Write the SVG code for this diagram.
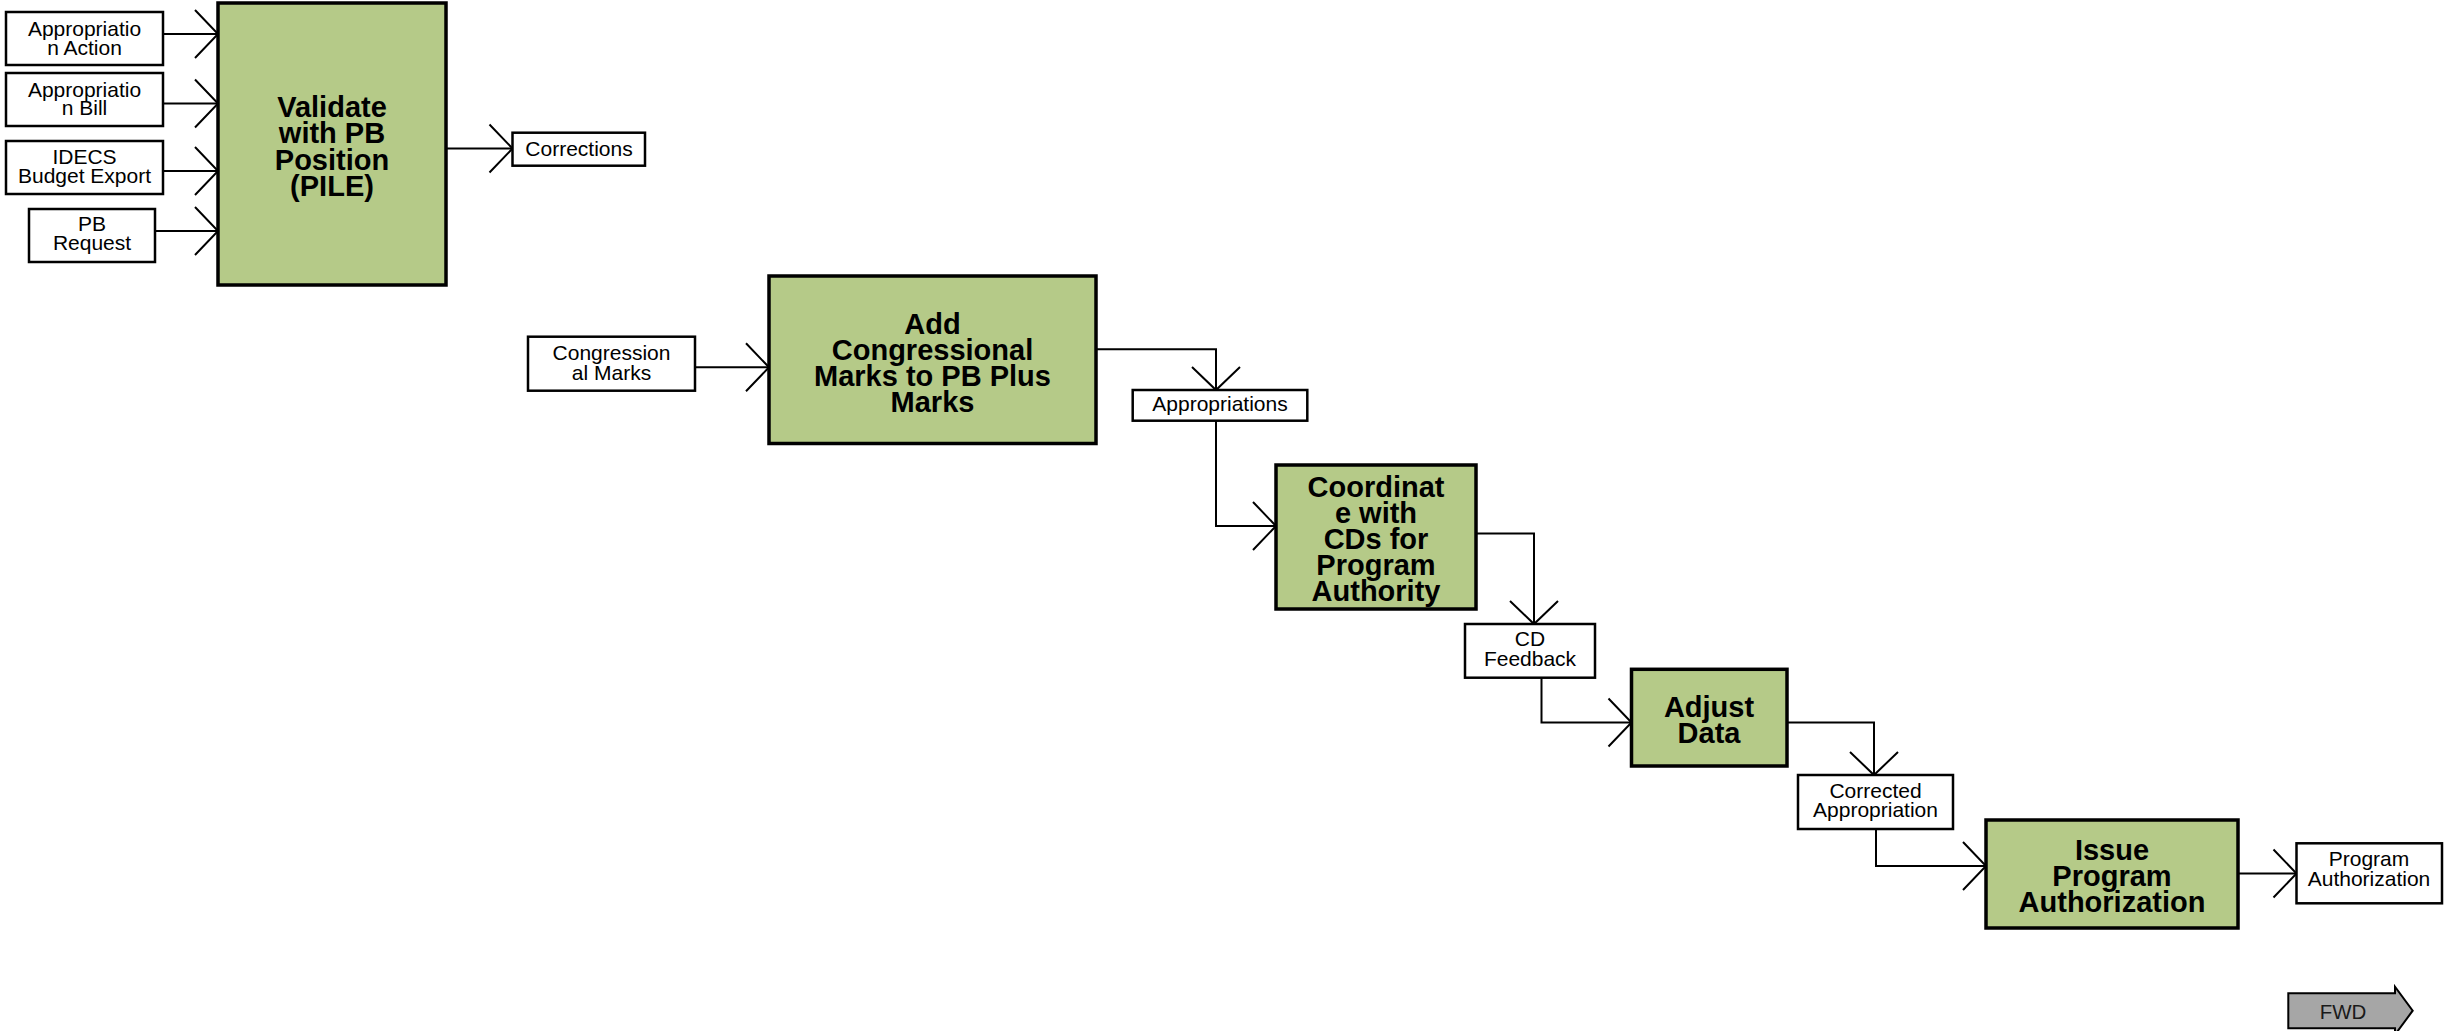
<svg xmlns="http://www.w3.org/2000/svg" width="2452" height="1031" viewBox="0 0 2452 1031">
<style>
.bg{fill:#ffffff}
.proc{fill:#b5ca88;stroke:#000;stroke-width:3.5}
.data{fill:#ffffff;stroke:#000;stroke-width:2.5}
.t{font-family:"Liberation Sans",Arial,sans-serif;font-size:21px;fill:#000;text-anchor:middle}
.b{font-family:"Liberation Sans",Arial,sans-serif;font-size:29px;font-weight:bold;fill:#000;text-anchor:middle}
.c{fill:none;stroke:#000;stroke-width:2}
.fwd{fill:#a6a6a6;stroke:#000;stroke-width:2}
</style>
<defs>
<marker id="chev" markerUnits="userSpaceOnUse" viewBox="-26 -27 30 54" refX="0" refY="0" markerWidth="30" markerHeight="54" orient="auto" overflow="visible">
<path d="M-23,-24 L0,0 L-23,24" fill="none" stroke="#000" stroke-width="2"/>
</marker>
</defs>
<rect class="bg" x="0" y="0" width="2452" height="1031"/>

<g id="connectors">
<path class="c" d="M163,34 H218" marker-end="url(#chev)"/>
<path class="c" d="M163,103.5 H218" marker-end="url(#chev)"/>
<path class="c" d="M163,171 H218" marker-end="url(#chev)"/>
<path class="c" d="M155,231 H218" marker-end="url(#chev)"/>
<path class="c" d="M446,148.5 H512.5" marker-end="url(#chev)"/>
<path class="c" d="M695,367.3 H769" marker-end="url(#chev)"/>
<path class="c" d="M1096,349.3 H1216 V390" marker-end="url(#chev)"/>
<path class="c" d="M1216,420.7 V526 H1276" marker-end="url(#chev)"/>
<path class="c" d="M1476,533.5 H1534 V624" marker-end="url(#chev)"/>
<path class="c" d="M1541.5,677.7 V722.5 H1631.5" marker-end="url(#chev)"/>
<path class="c" d="M1787,722.5 H1874 V775" marker-end="url(#chev)"/>
<path class="c" d="M1876,829 V866 H1986" marker-end="url(#chev)"/>
<path class="c" d="M2238,873.5 H2296.5" marker-end="url(#chev)"/>
</g>

<g id="appropriation-action">
<rect class="data" x="6" y="12" width="157" height="53"/>
<text class="t"><tspan x="84.5" y="36">Appropriatio</tspan><tspan x="84.5" y="55">n Action</tspan></text>
</g>
<g id="appropriation-bill">
<rect class="data" x="6" y="73" width="157" height="53"/>
<text class="t"><tspan x="84.5" y="96.5">Appropriatio</tspan><tspan x="84.5" y="115">n Bill</tspan></text>
</g>
<g id="idecs-budget-export">
<rect class="data" x="6" y="141" width="157" height="53"/>
<text class="t"><tspan x="84.5" y="163.5">IDECS</tspan><tspan x="84.5" y="182.5">Budget Export</tspan></text>
</g>
<g id="pb-request">
<rect class="data" x="29" y="209" width="126" height="53"/>
<text class="t"><tspan x="92" y="231">PB</tspan><tspan x="92" y="250">Request</tspan></text>
</g>
<g id="validate">
<rect class="proc" x="218" y="3" width="228" height="282"/>
<text class="b"><tspan x="332" y="117">Validate</tspan><tspan x="332" y="143">with PB</tspan><tspan x="332" y="169.5">Position</tspan><tspan x="332" y="196">(PILE)</tspan></text>
</g>
<g id="corrections">
<rect class="data" x="512.5" y="132.7" width="132.5" height="33"/>
<text class="t" x="579" y="155.5">Corrections</text>
</g>
<g id="congressional-marks">
<rect class="data" x="528" y="336.7" width="167" height="54"/>
<text class="t"><tspan x="611.5" y="359.5">Congression</tspan><tspan x="611.5" y="379.5">al Marks</tspan></text>
</g>
<g id="add-marks">
<rect class="proc" x="769" y="276" width="327" height="167.5"/>
<text class="b"><tspan x="932.5" y="333.5">Add</tspan><tspan x="932.5" y="359.5">Congressional</tspan><tspan x="932.5" y="385.5">Marks to PB Plus</tspan><tspan x="932.5" y="411.5">Marks</tspan></text>
</g>
<g id="appropriations">
<rect class="data" x="1132.7" y="390" width="174.6" height="30.7"/>
<text class="t" x="1220" y="411">Appropriations</text>
</g>
<g id="coordinate">
<rect class="proc" x="1276" y="465" width="200" height="144"/>
<text class="b"><tspan x="1376" y="496.5">Coordinat</tspan><tspan x="1376" y="522.5">e with</tspan><tspan x="1376" y="548.5">CDs for</tspan><tspan x="1376" y="574.5">Program</tspan><tspan x="1376" y="600.5">Authority</tspan></text>
</g>
<g id="cd-feedback">
<rect class="data" x="1465" y="624" width="130" height="53.7"/>
<text class="t"><tspan x="1530" y="645.5">CD</tspan><tspan x="1530" y="665.5">Feedback</tspan></text>
</g>
<g id="adjust-data">
<rect class="proc" x="1631.5" y="669.3" width="155.5" height="96.7"/>
<text class="b"><tspan x="1709" y="717">Adjust</tspan><tspan x="1709" y="743">Data</tspan></text>
</g>
<g id="corrected-appropriation">
<rect class="data" x="1798" y="775" width="155" height="54"/>
<text class="t"><tspan x="1875.5" y="797.5">Corrected</tspan><tspan x="1875.5" y="816.5">Appropriation</tspan></text>
</g>
<g id="issue-authorization">
<rect class="proc" x="1986" y="820" width="252" height="108"/>
<text class="b"><tspan x="2112" y="860">Issue</tspan><tspan x="2112" y="886">Program</tspan><tspan x="2112" y="912">Authorization</tspan></text>
</g>
<g id="program-authorization">
<rect class="data" x="2296.5" y="843.3" width="145.5" height="60"/>
<text class="t"><tspan x="2369" y="866">Program</tspan><tspan x="2369" y="886">Authorization</tspan></text>
</g>
<g id="fwd">
<polygon class="fwd" points="2288.3,993.3 2395,993.3 2395,986.7 2412.7,1010.7 2395,1034.7 2395,1028.3 2288.3,1028.3"/>
<text class="t" x="2343" y="1019" style="font-size:20.5px;fill:#1a1a1a">FWD</text>
</g>
</svg>
